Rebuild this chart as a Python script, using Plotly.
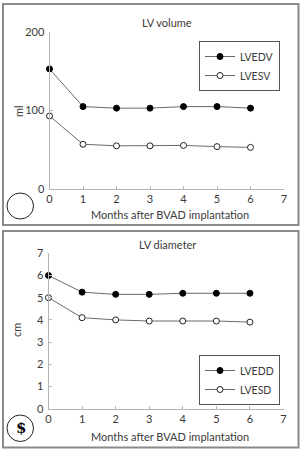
import plotly.graph_objects as go

W, H = 302, 449

months = [0, 1, 2, 3, 4, 5, 6]
lvedv = [153, 105, 103, 103, 105, 105, 103]
lvesv = [93, 57, 55, 55, 55.5, 54, 53]
lvedd = [6.0, 5.25, 5.15, 5.15, 5.2, 5.2, 5.2]
lvesd = [5.0, 4.1, 4.0, 3.95, 3.95, 3.95, 3.9]

x_ticks = [0, 1, 2, 3, 4, 5, 6, 7]
vol_ticks = [0, 100, 200]
dia_ticks = [0, 1, 2, 3, 4, 5, 6, 7]

FONT = "Lato"
TXT = "#3a3a3a"
LINE = "#6a6a6a"
AX = "#b5b5b5"

def px(x):
    return x / W

def py(y):
    return 1 - y / H

fig = go.Figure()

def add_pair(xa, ya, y1, y2, n1, n2, leg):
    fig.add_trace(go.Scatter(x=months, y=y1, name=n1, mode="lines+markers",
                             xaxis=xa, yaxis=ya, legend=leg, cliponaxis=False,
                             line=dict(color=LINE, width=1),
                             marker=dict(symbol="circle", size=6, color="black",
                                         line=dict(color="black", width=1))))
    fig.add_trace(go.Scatter(x=months, y=y2, name=n2, mode="lines+markers",
                             xaxis=xa, yaxis=ya, legend=leg, cliponaxis=False,
                             line=dict(color=LINE, width=1),
                             marker=dict(symbol="circle", size=6, color="white",
                                         line=dict(color="#222", width=1))))

add_pair("x", "y", lvedv, lvesv, "LVEDV", "LVESV", "legend")
add_pair("x2", "y2", lvedd, lvesd, "LVEDD", "LVESD", "legend2")

axis_common = dict(showline=True, linecolor=AX, linewidth=1, ticks="inside",
                   ticklen=3, tickcolor=AX, showgrid=False, zeroline=False,
                   automargin=False,
                   tickfont=dict(family=FONT, size=11, color=TXT), fixedrange=True)

legend_common = dict(bgcolor="white", bordercolor="#555", borderwidth=1,
                     font=dict(family=FONT, size=10.5, color=TXT),
                     tracegroupgap=0, itemwidth=30, xanchor="left", yanchor="top")

fig.update_layout(
    template="plotly",
    width=W, height=H, margin=dict(l=0, r=0, t=0, b=0, pad=0, autoexpand=False),
    paper_bgcolor="white", plot_bgcolor="white", showlegend=True,
    xaxis=dict(domain=[px(49.5), px(284)], range=[0, 7], tickvals=x_ticks,
               anchor="y", **axis_common),
    yaxis=dict(domain=[py(189), py(32)], range=[0, 200], tickvals=vol_ticks,
               anchor="x", ticklabelstandoff=2, **axis_common),
    xaxis2=dict(domain=[px(48.5), px(283.5)], range=[0, 7], tickvals=x_ticks,
                anchor="y2", **axis_common),
    yaxis2=dict(domain=[py(408.7), py(253.3)], range=[0, 7], tickvals=dia_ticks,
                anchor="x2", ticklabelstandoff=2, **axis_common),
    legend=dict(x=px(199), y=py(41), **legend_common),
    legend2=dict(x=px(199), y=py(355), **legend_common),
)

ann = dict(xref="paper", yref="paper", showarrow=False, xanchor="center", yanchor="middle",
           font=dict(family=FONT, size=11, color=TXT))
fig.add_annotation(text="LV volume", x=px(167), y=py(23), **ann)
fig.add_annotation(text="LV diameter", x=px(167), y=py(244), **ann)
fig.add_annotation(text="Months after BVAD implantation", x=px(170), y=py(214), **ann)
fig.add_annotation(text="Months after BVAD implantation", x=px(170), y=py(436), **ann)
fig.add_annotation(text="ml", x=px(18), y=py(111), textangle=-90, **ann)
fig.add_annotation(text="cm", x=px(16), y=py(330), textangle=-90, **ann)
fig.add_annotation(text="<b>$</b>", x=px(20.5), y=py(428), xref="paper", yref="paper",
                   showarrow=False, xanchor="center", yanchor="middle",
                   font=dict(family="DejaVu Serif", size=15, color="black"))

shape = dict(xref="paper", yref="paper")
fig.add_shape(type="rect", x0=px(3), x1=px(298.5), y0=py(225), y1=py(4),
              line=dict(color="#8a8a8a", width=2), **shape)
fig.add_shape(type="rect", x0=px(3), x1=px(298.5), y0=py(447.5), y1=py(231),
              line=dict(color="#8a8a8a", width=2), **shape)
fig.add_shape(type="circle", x0=px(7), x1=px(33.5), y0=py(219), y1=py(193),
              line=dict(color="#222", width=1), **shape)
fig.add_shape(type="circle", x0=px(7), x1=px(33.5), y0=py(441.5), y1=py(415),
              line=dict(color="#222", width=1), **shape)

fig.write_html("out.html")
